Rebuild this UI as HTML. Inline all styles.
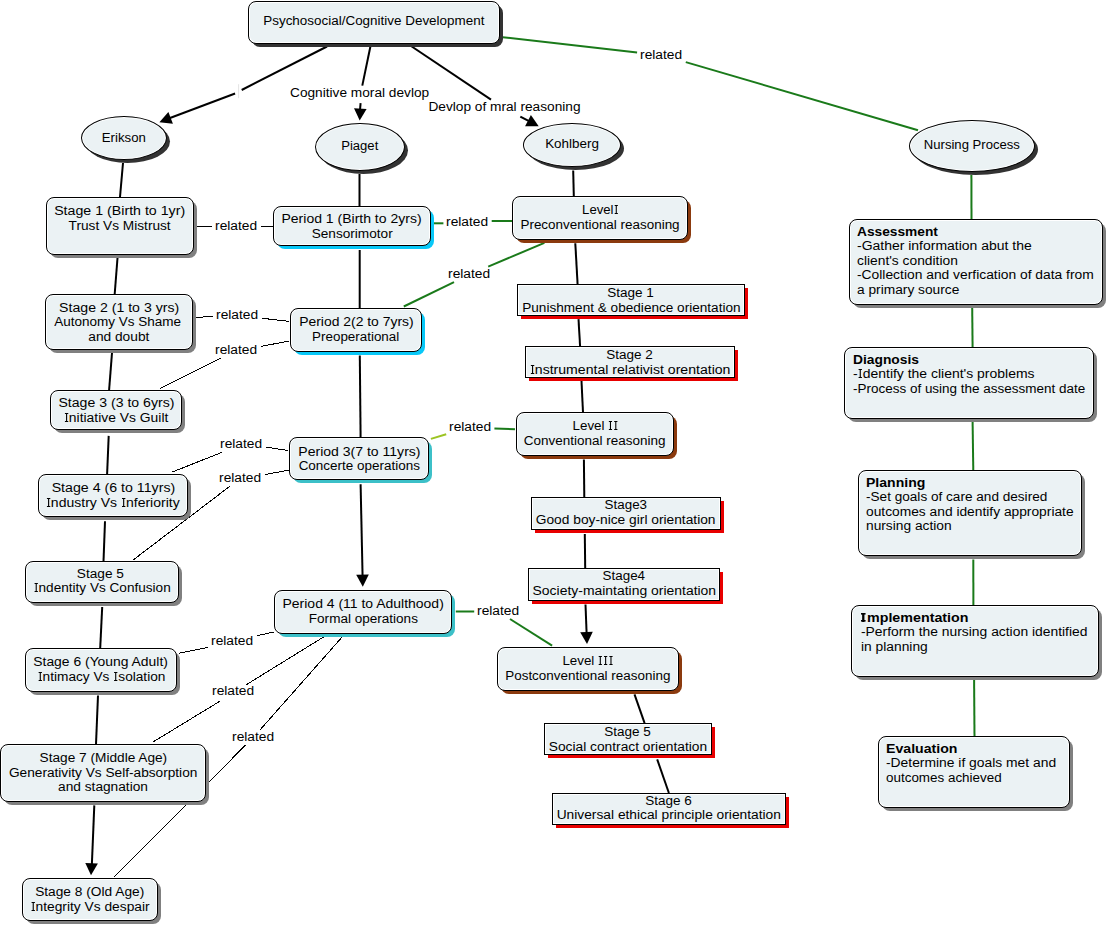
<!DOCTYPE html><html><head><meta charset="utf-8"><style>
html,body{margin:0;padding:0}
body{width:1109px;height:927px;background:#fff;position:relative;overflow:hidden;font-family:"Liberation Sans",sans-serif;color:#000}
svg{position:absolute;left:0;top:0}
.sh,.n{position:absolute;box-sizing:border-box}
.n{border:1px solid #000;background:#ebf2f4;box-shadow:inset 0 0 0 1px #fff}
.rr{border-radius:8px}
.el{border-radius:50%}
.t{position:absolute;height:15px;line-height:15px;font-size:12.5px;white-space:pre}
.t span{display:inline-block}
.c span{transform-origin:50% 50%}
.lft span{transform-origin:0 50%}
.b{font-weight:bold}
.I,.Ib{display:inline-block;height:9px;vertical-align:baseline;background-repeat:no-repeat}
.I{background-image:linear-gradient(#000,#000),linear-gradient(#000,#000),linear-gradient(#000,#000);background-size:1.3px 100%,3.4px 1px,3.4px 1px;background-position:50% 0,50% 0,50% 100%}
.Ib{background-image:linear-gradient(#000,#000),linear-gradient(#000,#000),linear-gradient(#000,#000);background-size:2.3px 100%,4.4px 1.6px,4.4px 1.6px;background-position:50% 0,50% 0,50% 100%}

</style></head><body>
<svg width="1109" height="927" viewBox="0 0 1109 927">
<polyline points="327,46.5 241.7,90" fill="none" stroke="#000" stroke-width="2"/>
<polyline points="235.1,93.5 166,119.5" fill="none" stroke="#000" stroke-width="2"/>
<polyline points="370.4,46.5 362.3,85.6" fill="none" stroke="#000" stroke-width="2"/>
<polyline points="360.6,103.1 360,110" fill="none" stroke="#000" stroke-width="2"/>
<polyline points="411,46 491,99.6" fill="none" stroke="#000" stroke-width="2"/>
<polyline points="520.3,116.7 530,121.6" fill="none" stroke="#000" stroke-width="2"/>
<polyline points="502.7,37.2 637.1,52.6" fill="none" stroke="#1a7a1a" stroke-width="2"/>
<polyline points="685.8,62.1 918,130.3" fill="none" stroke="#1a7a1a" stroke-width="2"/>
<polyline points="123,163 120,197" fill="none" stroke="#000" stroke-width="2"/>
<polyline points="117.5,258 114.7,294" fill="none" stroke="#000" stroke-width="2"/>
<polyline points="112,353 109.1,390" fill="none" stroke="#000" stroke-width="2"/>
<polyline points="108.7,435.9 107.1,474.2" fill="none" stroke="#000" stroke-width="2"/>
<polyline points="105,521.2 103.5,561.4" fill="none" stroke="#000" stroke-width="2"/>
<polyline points="102.2,607 100.2,648.2" fill="none" stroke="#000" stroke-width="2"/>
<polyline points="98,695.5 96,744" fill="none" stroke="#000" stroke-width="2"/>
<polyline points="94.3,805.4 91.8,866" fill="none" stroke="#000" stroke-width="2"/>
<polyline points="359.5,174 359.5,206" fill="none" stroke="#000" stroke-width="2"/>
<polyline points="359.7,250 359.7,308" fill="none" stroke="#000" stroke-width="2"/>
<polyline points="359.8,355.5 360.6,437" fill="none" stroke="#000" stroke-width="2"/>
<polyline points="360.6,484.3 362.6,577" fill="none" stroke="#000" stroke-width="2"/>
<polyline points="573.2,170.5 573.8,196" fill="none" stroke="#000" stroke-width="2"/>
<polyline points="575.3,243.2 577.6,284.2" fill="none" stroke="#000" stroke-width="2"/>
<polyline points="578.5,319.1 580.1,346.2" fill="none" stroke="#000" stroke-width="2"/>
<polyline points="581.5,381 583,412.5" fill="none" stroke="#000" stroke-width="2"/>
<polyline points="583.9,459.4 584.3,497" fill="none" stroke="#000" stroke-width="2"/>
<polyline points="584.8,534 585.2,568" fill="none" stroke="#000" stroke-width="2"/>
<polyline points="585.5,604.5 586.6,633" fill="none" stroke="#000" stroke-width="2"/>
<polyline points="634.5,694.3 644.6,723.1" fill="none" stroke="#000" stroke-width="2"/>
<polyline points="657.2,759.4 668.9,793" fill="none" stroke="#000" stroke-width="2"/>
<polyline points="971.4,175 971.5,219" fill="none" stroke="#1a7a1a" stroke-width="2"/>
<polyline points="972.2,308 972.6,347.5" fill="none" stroke="#1a7a1a" stroke-width="2"/>
<polyline points="972.6,422 973.3,470.5" fill="none" stroke="#1a7a1a" stroke-width="2"/>
<polyline points="973.3,559.6 973.4,605.5" fill="none" stroke="#1a7a1a" stroke-width="2"/>
<polyline points="974.1,680 974.5,736.7" fill="none" stroke="#1a7a1a" stroke-width="2"/>
<polyline points="196.8,226.4 211.8,226.4" fill="none" stroke="#000" stroke-width="1" shape-rendering="crispEdges"/>
<polyline points="261.2,226.4 273,226.4" fill="none" stroke="#000" stroke-width="1" shape-rendering="crispEdges"/>
<polyline points="433.9,223.3 443.4,223.3" fill="none" stroke="#1a7a1a" stroke-width="2"/>
<polyline points="491.7,221 512,221" fill="none" stroke="#1a7a1a" stroke-width="2"/>
<polyline points="403.8,306.5 454,282.2" fill="none" stroke="#1a7a1a" stroke-width="2"/>
<polyline points="488.2,266.6 544.4,242.9" fill="none" stroke="#1a7a1a" stroke-width="2"/>
<polyline points="196,317.6 212.8,316.2" fill="none" stroke="#000" stroke-width="1" shape-rendering="crispEdges"/>
<polyline points="262.2,318.3 289,321.3" fill="none" stroke="#000" stroke-width="1" shape-rendering="crispEdges"/>
<polyline points="160.3,388.4 220.8,358.3" fill="none" stroke="#000" stroke-width="1" shape-rendering="crispEdges"/>
<polyline points="261.2,346.4 289,341" fill="none" stroke="#000" stroke-width="1" shape-rendering="crispEdges"/>
<polyline points="172.4,472 222,452.3" fill="none" stroke="#000" stroke-width="1" shape-rendering="crispEdges"/>
<polyline points="266.2,447.2 288.5,450.5" fill="none" stroke="#000" stroke-width="1" shape-rendering="crispEdges"/>
<polyline points="133.5,559.7 229.8,486.3" fill="none" stroke="#000" stroke-width="1" shape-rendering="crispEdges"/>
<polyline points="265.1,474.5 288.5,470.2" fill="none" stroke="#000" stroke-width="1" shape-rendering="crispEdges"/>
<polyline points="430.9,438.9 446.2,434.2" fill="none" stroke="#9cc423" stroke-width="2"/>
<polyline points="494.4,428.5 515,429.2" fill="none" stroke="#1a7a1a" stroke-width="2"/>
<polyline points="455.8,611.5 474.2,611.5" fill="none" stroke="#1a7a1a" stroke-width="2"/>
<polyline points="510,619 552.1,645.6" fill="none" stroke="#1a7a1a" stroke-width="2"/>
<polyline points="179.1,653.2 207.8,647.5" fill="none" stroke="#000" stroke-width="1" shape-rendering="crispEdges"/>
<polyline points="257.3,635.7 273.5,632.1" fill="none" stroke="#000" stroke-width="1" shape-rendering="crispEdges"/>
<polyline points="153,742 220.6,700.8" fill="none" stroke="#000" stroke-width="1" shape-rendering="crispEdges"/>
<polyline points="246.3,684.7 323.9,636.8" fill="none" stroke="#000" stroke-width="1" shape-rendering="crispEdges"/>
<polyline points="114.4,876.5 245.6,745.1" fill="none" stroke="#000" stroke-width="1" shape-rendering="crispEdges"/>
<polyline points="260.4,729.5 342.3,636.8" fill="none" stroke="#000" stroke-width="1" shape-rendering="crispEdges"/>
<line x1="238.6" y1="84.2" x2="238.6" y2="98.2" stroke="#e4e4e4" stroke-width="1"/>
<polygon points="159.4,122.2 168.4,112.1 172.9,123.8" fill="#000"/>
<polygon points="359.7,120.6 354.0,108.3 366.6,108.9" fill="#000"/>
<polygon points="538.7,126.2 525.1,126.3 530.9,115.1" fill="#000"/>
<polygon points="362.8,586.7 356.2,574.8 368.8,574.6" fill="#000"/>
<polygon points="587.0,644.0 580.2,632.2 592.8,631.8" fill="#000"/>
<polygon points="91.0,875.3 85.3,863.0 97.9,863.6" fill="#000"/>
</svg>
<div class="sh" style="left:252px;top:5px;width:251px;height:42px;border-radius:8px;background:#333333"></div>
<div class="n rr" style="left:248px;top:1px;width:252px;height:43px"></div>
<div class="sh" style="left:85px;top:120px;width:85px;height:43px;border-radius:50%;background:#333333"></div>
<div class="n el" style="left:81px;top:116px;width:86px;height:44px"></div>
<div class="sh" style="left:319px;top:127px;width:89px;height:47px;border-radius:50%;background:#333333"></div>
<div class="n el" style="left:315px;top:123px;width:90px;height:48px"></div>
<div class="sh" style="left:527px;top:127px;width:97px;height:43px;border-radius:50%;background:#333333"></div>
<div class="n el" style="left:523px;top:123px;width:98px;height:44px"></div>
<div class="sh" style="left:913px;top:124px;width:125px;height:51px;border-radius:50%;background:#333333"></div>
<div class="n el" style="left:909px;top:120px;width:126px;height:52px"></div>
<div class="sh" style="left:50px;top:201px;width:147px;height:57px;border-radius:8px;background:#808080"></div>
<div class="n rr" style="left:46px;top:197px;width:148px;height:58px"></div>
<div class="sh" style="left:49px;top:298px;width:147px;height:55px;border-radius:8px;background:#808080"></div>
<div class="n rr" style="left:45px;top:294px;width:148px;height:56px"></div>
<div class="sh" style="left:54px;top:394px;width:131px;height:39px;border-radius:8px;background:#808080"></div>
<div class="n rr" style="left:50px;top:390px;width:132px;height:40px"></div>
<div class="sh" style="left:42px;top:478px;width:149px;height:42px;border-radius:8px;background:#808080"></div>
<div class="n rr" style="left:38px;top:474px;width:150px;height:43px"></div>
<div class="sh" style="left:29px;top:565px;width:153px;height:41px;border-radius:8px;background:#808080"></div>
<div class="n rr" style="left:25px;top:561px;width:154px;height:42px"></div>
<div class="sh" style="left:29px;top:652px;width:151px;height:43px;border-radius:8px;background:#808080"></div>
<div class="n rr" style="left:25px;top:648px;width:152px;height:44px"></div>
<div class="sh" style="left:4px;top:748px;width:205px;height:57px;border-radius:8px;background:#808080"></div>
<div class="n rr" style="left:0px;top:744px;width:206px;height:58px"></div>
<div class="sh" style="left:26px;top:882px;width:135px;height:42px;border-radius:8px;background:#808080"></div>
<div class="n rr" style="left:22px;top:878px;width:136px;height:43px"></div>
<div class="sh" style="left:277px;top:210px;width:157px;height:39px;border-radius:8px;background:#08c8f8"></div>
<div class="n rr" style="left:273px;top:206px;width:158px;height:40px"></div>
<div class="sh" style="left:294px;top:312px;width:131px;height:43px;border-radius:8px;background:#08c8f8"></div>
<div class="n rr" style="left:290px;top:308px;width:132px;height:44px"></div>
<div class="sh" style="left:293px;top:441px;width:139px;height:42px;border-radius:8px;background:#3cc0c8"></div>
<div class="n rr" style="left:289px;top:437px;width:140px;height:43px"></div>
<div class="sh" style="left:278px;top:594px;width:177px;height:43px;border-radius:8px;background:#3cc0c8"></div>
<div class="n rr" style="left:274px;top:590px;width:178px;height:44px"></div>
<div class="sh" style="left:516px;top:200px;width:175px;height:43px;border-radius:8px;background:#8b3a0e"></div>
<div class="n rr" style="left:512px;top:196px;width:176px;height:44px"></div>
<div class="sh" style="left:521px;top:288px;width:227px;height:31px;border-radius:0;background:#e80000"></div>
<div class="n rect" style="left:517px;top:284px;width:228px;height:32px"></div>
<div class="sh" style="left:529px;top:350px;width:209px;height:31px;border-radius:0;background:#e80000"></div>
<div class="n rect" style="left:525px;top:346px;width:210px;height:32px"></div>
<div class="sh" style="left:520px;top:416px;width:157px;height:43px;border-radius:8px;background:#8b3a0e"></div>
<div class="n rr" style="left:516px;top:412px;width:158px;height:44px"></div>
<div class="sh" style="left:535px;top:501px;width:189px;height:32px;border-radius:0;background:#e80000"></div>
<div class="n rect" style="left:531px;top:497px;width:190px;height:33px"></div>
<div class="sh" style="left:532px;top:572px;width:191px;height:32px;border-radius:0;background:#e80000"></div>
<div class="n rect" style="left:528px;top:568px;width:192px;height:33px"></div>
<div class="sh" style="left:501px;top:651px;width:181px;height:43px;border-radius:8px;background:#8b3a0e"></div>
<div class="n rr" style="left:497px;top:647px;width:182px;height:44px"></div>
<div class="sh" style="left:548px;top:727px;width:167px;height:31px;border-radius:0;background:#e80000"></div>
<div class="n rect" style="left:544px;top:723px;width:168px;height:32px"></div>
<div class="sh" style="left:556px;top:797px;width:233px;height:31px;border-radius:0;background:#e80000"></div>
<div class="n rect" style="left:552px;top:793px;width:234px;height:32px"></div>
<div class="sh" style="left:853px;top:223px;width:253px;height:85px;border-radius:8px;background:#808080"></div>
<div class="n rr" style="left:849px;top:219px;width:254px;height:86px"></div>
<div class="sh" style="left:848px;top:351px;width:249px;height:71px;border-radius:8px;background:#808080"></div>
<div class="n rr" style="left:844px;top:347px;width:250px;height:72px"></div>
<div class="sh" style="left:862px;top:474px;width:223px;height:85px;border-radius:8px;background:#808080"></div>
<div class="n rr" style="left:858px;top:470px;width:224px;height:86px"></div>
<div class="sh" style="left:855px;top:609px;width:247px;height:71px;border-radius:8px;background:#808080"></div>
<div class="n rr" style="left:851px;top:605px;width:248px;height:72px"></div>
<div class="sh" style="left:882px;top:740px;width:191px;height:71px;border-radius:8px;background:#808080"></div>
<div class="n rr" style="left:878px;top:736px;width:192px;height:72px"></div>
<div class="t c" style="left:271.16px;top:14.10px"><span class="" style="transform:scaleX(1.0755)">Psychosocial/Cognitive Development</span></div>
<div class="t c" style="left:103.16px;top:131.10px"><span class="" style="transform:scaleX(1.0578)">Erikson</span></div>
<div class="t c" style="left:342.27px;top:138.80px"><span class="" style="transform:scaleX(1.0460)">Piaget</span></div>
<div class="t c" style="left:546.98px;top:137.00px"><span class="" style="transform:scaleX(1.0742)">Kohlberg</span></div>
<div class="t c" style="left:926.15px;top:138.10px"><span class="" style="transform:scaleX(1.0479)">Nursing Process</span></div>
<div class="t c" style="left:62.34px;top:204.30px"><span class="" style="transform:scaleX(1.1361)">Stage 1 (Birth to 1yr)</span></div>
<div class="t c" style="left:73.35px;top:218.85px"><span class="" style="transform:scaleX(1.0939)">Trust Vs Mistrust</span></div>
<div class="t c" style="left:65.84px;top:300.90px"><span class="" style="transform:scaleX(1.1301)">Stage 2 (1 to 3 yrs)</span></div>
<div class="t c" style="left:58.55px;top:315.45px"><span class="" style="transform:scaleX(1.0798)">Autonomy Vs Shame </span></div>
<div class="t c" style="left:91.20px;top:330.00px"><span class="" style="transform:scaleX(1.0987)">and doubt</span></div>
<div class="t c" style="left:64.59px;top:396.40px"><span class="" style="transform:scaleX(1.1274)">Stage 3 (3 to 6yrs)</span></div>
<div class="t c" style="left:68.91px;top:410.95px"><span class="" style="transform:scaleX(1.1101)"><i class="I" style="width:4.558px"></i>nitiative Vs Guilt</span></div>
<div class="t c" style="left:58.57px;top:481.20px"><span class="" style="transform:scaleX(1.1351)">Stage 4 (6 to 11yrs)</span></div>
<div class="t c" style="left:53.25px;top:495.75px"><span class="" style="transform:scaleX(1.1204)"><i class="I" style="width:4.516px"></i>ndustry Vs <i class="I" style="width:4.516px"></i>nferiority</span></div>
<div class="t c" style="left:78.71px;top:566.90px"><span class="" style="transform:scaleX(1.0914)">Stage 5 </span></div>
<div class="t c" style="left:38.87px;top:581.45px"><span class="" style="transform:scaleX(1.0871)"><i class="I" style="width:4.655px"></i>ndentity Vs Confusion</span></div>
<div class="t c" style="left:40.41px;top:655.10px"><span class="" style="transform:scaleX(1.1109)">Stage 6 (Young Adult)</span></div>
<div class="t c" style="left:42.53px;top:669.65px"><span class="" style="transform:scaleX(1.0934)"><i class="I" style="width:4.628px"></i>ntimacy Vs <i class="I" style="width:4.628px"></i>solation</span></div>
<div class="t c" style="left:44.62px;top:751.00px"><span class="" style="transform:scaleX(1.0929)">Stage 7 (Middle Age)</span></div>
<div class="t c" style="left:16.84px;top:765.55px"><span class="" style="transform:scaleX(1.0935)">Generativity Vs Self-absorption</span></div>
<div class="t c" style="left:61.99px;top:780.10px"><span class="" style="transform:scaleX(1.0963)">and stagnation</span></div>
<div class="t c" style="left:40.31px;top:885.30px"><span class="" style="transform:scaleX(1.0979)">Stage 8 (Old Age)</span></div>
<div class="t c" style="left:35.94px;top:899.85px"><span class="" style="transform:scaleX(1.1022)"><i class="I" style="width:4.591px"></i>ntegrity Vs despair</span></div>
<div class="t c" style="left:289.48px;top:212.10px"><span class="" style="transform:scaleX(1.1202)">Period 1 (Birth to 2yrs)</span></div>
<div class="t c" style="left:314.83px;top:226.65px"><span class="" style="transform:scaleX(1.0899)">Sensorimotor</span></div>
<div class="t c" style="left:304.59px;top:315.00px"><span class="" style="transform:scaleX(1.1135)">Period 2(2 to 7yrs)</span></div>
<div class="t c" style="left:315.34px;top:329.55px"><span class="" style="transform:scaleX(1.0718)">Preoperational</span></div>
<div class="t c" style="left:304.57px;top:444.50px"><span class="" style="transform:scaleX(1.1220)">Period 3(7 to 11yrs)</span></div>
<div class="t c" style="left:302.71px;top:459.05px"><span class="" style="transform:scaleX(1.0773)">Concerte operations</span></div>
<div class="t c" style="left:290.84px;top:597.00px"><span class="" style="transform:scaleX(1.1174)">Period 4 (11 to Adulthood)</span></div>
<div class="t c" style="left:312.62px;top:611.55px"><span class="" style="transform:scaleX(1.0830)">Formal operations</span></div>
<div class="t c" style="left:582.65px;top:203.00px"><span class="" style="transform:scaleX(1.0506)">Level<i class="I" style="width:4.816px"></i></span></div>
<div class="t c" style="left:525.98px;top:217.55px"><span class="" style="transform:scaleX(1.0751)">Preconventional reasoning</span></div>
<div class="t c" style="left:609.45px;top:286.10px"><span class="" style="transform:scaleX(1.0818)">Stage 1</span></div>
<div class="t c" style="left:530.58px;top:300.65px"><span class="" style="transform:scaleX(1.0872)">Punishment &amp; obedience orientation</span></div>
<div class="t c" style="left:608.45px;top:348.10px"><span class="" style="transform:scaleX(1.0818)">Stage 2</span></div>
<div class="t c" style="left:540.90px;top:362.65px"><span class="" style="transform:scaleX(1.1263)"><i class="I" style="width:4.493px"></i>nstrumental relativist orentation</span></div>
<div class="t c" style="left:573.58px;top:419.20px"><span class="" style="transform:scaleX(1.0679)">Level <i class="I" style="width:4.738px"></i><i class="I" style="width:4.738px"></i></span></div>
<div class="t c" style="left:529.33px;top:433.75px"><span class="" style="transform:scaleX(1.0795)">Conventional reasoning</span></div>
<div class="t c" style="left:606.19px;top:498.30px"><span class="" style="transform:scaleX(1.0700)">Stage3</span></div>
<div class="t c" style="left:544.35px;top:512.85px"><span class="" style="transform:scaleX(1.1009)">Good boy-nice girl orientation</span></div>
<div class="t c" style="left:604.19px;top:569.30px"><span class="" style="transform:scaleX(1.0700)">Stage4</span></div>
<div class="t c" style="left:541.66px;top:583.85px"><span class="" style="transform:scaleX(1.1146)">Society-maintating orientation</span></div>
<div class="t c" style="left:564.21px;top:654.00px"><span class="" style="transform:scaleX(1.0680)">Level <i class="I" style="width:4.738px"></i><i class="I" style="width:4.738px"></i><i class="I" style="width:4.738px"></i></span></div>
<div class="t c" style="left:511.21px;top:668.55px"><span class="" style="transform:scaleX(1.0753)">Postconventional reasoning</span></div>
<div class="t c" style="left:606.45px;top:725.30px"><span class="" style="transform:scaleX(1.0818)">Stage 5</span></div>
<div class="t c" style="left:556.08px;top:739.85px"><span class="" style="transform:scaleX(1.1013)">Social contract orientation</span></div>
<div class="t c" style="left:647.45px;top:793.90px"><span class="" style="transform:scaleX(1.0818)">Stage 6</span></div>
<div class="t c" style="left:567.21px;top:808.45px"><span class="" style="transform:scaleX(1.1015)">Universal ethical principle orientation</span></div>
<div class="t lft" style="left:857.00px;top:224.60px"><span class="b" style="transform:scaleX(1.0983)">Assessment</span></div>
<div class="t lft" style="left:857.00px;top:239.15px"><span class="" style="transform:scaleX(1.1177)">-Gather information abut the</span></div>
<div class="t lft" style="left:857.00px;top:253.70px"><span class="" style="transform:scaleX(1.1040)">client&#39;s condition</span></div>
<div class="t lft" style="left:857.00px;top:268.25px"><span class="" style="transform:scaleX(1.1065)">-Collection and verfication of data from</span></div>
<div class="t lft" style="left:857.00px;top:282.80px"><span class="" style="transform:scaleX(1.0989)">a primary source</span></div>
<div class="t lft" style="left:852.70px;top:352.70px"><span class="b" style="transform:scaleX(1.1046)">Diagnosis</span></div>
<div class="t lft" style="left:852.70px;top:367.25px"><span class="" style="transform:scaleX(1.1166)">-<i class="I" style="width:4.532px"></i>dentify the client&#39;s problems</span></div>
<div class="t lft" style="left:852.70px;top:381.80px"><span class="" style="transform:scaleX(1.0778)">-Process of using the assessment date</span></div>
<div class="t lft" style="left:866.00px;top:475.60px"><span class="b" style="transform:scaleX(1.1235)">Planning</span></div>
<div class="t lft" style="left:866.00px;top:490.15px"><span class="" style="transform:scaleX(1.0870)">-Set goals of care and desired</span></div>
<div class="t lft" style="left:866.00px;top:504.70px"><span class="" style="transform:scaleX(1.1024)">outcomes and identify appropriate</span></div>
<div class="t lft" style="left:866.00px;top:519.25px"><span class="" style="transform:scaleX(1.0995)">nursing action</span></div>
<div class="t lft" style="left:860.50px;top:610.80px"><span class="b" style="transform:scaleX(1.1417)"><i class="Ib" style="width:5.256px"></i>mplementation</span></div>
<div class="t lft" style="left:860.50px;top:625.35px"><span class="" style="transform:scaleX(1.1084)">-Perform the nursing action identified</span></div>
<div class="t lft" style="left:860.50px;top:639.90px"><span class="" style="transform:scaleX(1.1034)">in planning</span></div>
<div class="t lft" style="left:886.00px;top:741.90px"><span class="b" style="transform:scaleX(1.1310)">Evaluation</span></div>
<div class="t lft" style="left:886.00px;top:756.45px"><span class="" style="transform:scaleX(1.1080)">-Determine if goals met and</span></div>
<div class="t lft" style="left:886.00px;top:771.00px"><span class="" style="transform:scaleX(1.0740)">outcomes achieved</span></div>
<div class="t c" style="left:296.12px;top:85.90px"><span style="transform:scaleX(1.0941)">Cognitive moral devlop</span></div>
<div class="t c" style="left:434.72px;top:100.20px"><span style="transform:scaleX(1.0943)">Devlop of mral reasoning</span></div>
<div class="t c" style="left:641.88px;top:48.00px"><span style="transform:scaleX(1.1016)">related</span></div>
<div class="t c" style="left:216.88px;top:218.90px"><span style="transform:scaleX(1.1016)">related</span></div>
<div class="t c" style="left:447.88px;top:214.60px"><span style="transform:scaleX(1.1016)">related</span></div>
<div class="t c" style="left:449.88px;top:266.70px"><span style="transform:scaleX(1.1016)">related</span></div>
<div class="t c" style="left:217.88px;top:307.80px"><span style="transform:scaleX(1.1016)">related</span></div>
<div class="t c" style="left:216.88px;top:342.70px"><span style="transform:scaleX(1.1016)">related</span></div>
<div class="t c" style="left:221.88px;top:436.90px"><span style="transform:scaleX(1.1016)">related</span></div>
<div class="t c" style="left:220.88px;top:470.70px"><span style="transform:scaleX(1.1016)">related</span></div>
<div class="t c" style="left:450.68px;top:419.80px"><span style="transform:scaleX(1.1016)">related</span></div>
<div class="t c" style="left:478.88px;top:603.80px"><span style="transform:scaleX(1.1016)">related</span></div>
<div class="t c" style="left:212.88px;top:633.60px"><span style="transform:scaleX(1.1016)">related</span></div>
<div class="t c" style="left:213.78px;top:684.30px"><span style="transform:scaleX(1.1016)">related</span></div>
<div class="t c" style="left:233.98px;top:729.70px"><span style="transform:scaleX(1.1016)">related</span></div>
</body></html>
